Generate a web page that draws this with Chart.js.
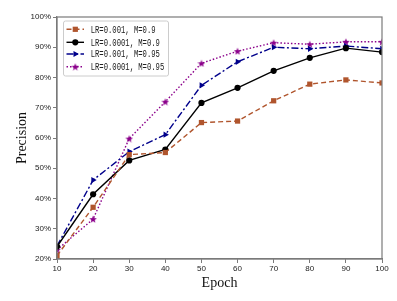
<!DOCTYPE html>
<html>
<head>
<meta charset="utf-8">
<script src="https://cdn.jsdelivr.net/npm/chart.js@4.4.1/dist/chart.umd.min.js"></script>
<style>
  body { margin: 0; background: #fff; }
  #wrap { width: 397px; height: 301px; }
</style>
</head>
<body>
<div id="wrap"><canvas id="lineChart" width="397" height="301"></canvas></div>
<script>
// data
const epochs = [10, 20, 30, 40, 50, 60, 70, 80, 90, 100];
const lr001m09 = [21.1, 37.1, 54.5, 55.2, 65.1, 65.6, 72.3, 77.8, 79.2, 78.2];
const lr0001m09 = [24.1, 41.4, 52.6, 56.2, 71.6, 76.6, 82.2, 86.5, 89.7, 88.4];
const lr001m095 = [24.3, 46.1, 55.5, 61.1, 77.4, 85.2, 90.0, 89.5, 90.4, 89.5];
const lr0001m095 = [23.0, 33.2, 59.8, 72.0, 84.7, 88.7, 91.5, 91.0, 91.8, 91.8];
const seriesNames = ['LR=0.001, M=0.9', 'LR=0.0001, M=0.9', 'LR=0.001, M=0.95', 'LR=0.0001, M=0.95'];
const yTicks = [20, 30, 40, 50, 60, 70, 80, 90, 100];

const gray = '#7a7a7a';
const tickFont = { family: "'Liberation Sans Narrow', 'Liberation Sans', Arial, sans-serif", size: 8 };

// filled five point star used as marker
function makeStar(color, size) {
    const c = document.createElement('canvas');
    c.width = size; c.height = size;
    const g = c.getContext('2d');
    const cx = size / 2, cy = size / 2 + 0.4, ro = size / 2, ri = ro * 0.42;
    g.beginPath();
    for (let i = 0; i < 10; i++) {
        const r = i % 2 === 0 ? ro : ri;
        const a = -Math.PI / 2 + i * Math.PI / 5;
        g.lineTo(cx + r * Math.cos(a), cy + r * Math.sin(a));
    }
    g.closePath();
    g.fillStyle = color;
    g.fill();
    return c;
}
const star = makeStar('#8b008b', 8);

function pts(vals) {
    return epochs.map((e, i) => ({ x: e, y: vals[i] }));
}

const datasets = [
    { label: seriesNames[0], data: pts(lr001m09), borderColor: '#b0552d', backgroundColor: '#b0552d',
      borderDash: [5, 3], pointStyle: 'rect', pointRadius: 3.7, rotation: 0 },
    { label: seriesNames[1], data: pts(lr0001m09), borderColor: '#000000', backgroundColor: '#000000',
      borderDash: [], pointStyle: 'circle', pointRadius: 3.1, rotation: 0 },
    { label: seriesNames[2], data: pts(lr001m095), borderColor: '#00008b', backgroundColor: '#00008b',
      borderDash: [7, 2.5, 2, 2.5], pointStyle: 'triangle', pointRadius: 3.6, rotation: 90 },
    { label: seriesNames[3], data: pts(lr0001m095), borderColor: '#8b008b', backgroundColor: '#8b008b',
      borderDash: [1.5, 2], pointStyle: star, pointRadius: 4, rotation: 0 }
];
datasets.forEach(d => {
    d.borderWidth = 1.4;
    d.pointBorderWidth = 0;
    d.tension = 0;
    d.fill = false;
    d.clip = 0;
});

// frame around plot area + legend box
const framePlugin = {
    id: 'frame',
    afterDraw(chart) {
        const { ctx, chartArea: a } = chart;
        ctx.save();
        ctx.strokeStyle = gray;
        ctx.lineWidth = 1.2;
        ctx.strokeRect(a.left, a.top, a.right - a.left, a.bottom - a.top);

        // legend
        const lx = 63, ly = 20.5, lw = 105, lh = 55;
        ctx.fillStyle = 'rgba(255,255,255,0.9)';
        ctx.strokeStyle = '#cccccc';
        ctx.lineWidth = 1;
        ctx.beginPath();
        ctx.roundRect(lx + 0.5, ly + 0.5, lw, lh, 2);
        ctx.fill();
        ctx.stroke();
        const rows = [29.3, 42.3, 54, 66.7];
        chart.data.datasets.forEach((d, i) => {
            const y = rows[i];
            ctx.strokeStyle = d.borderColor;
            ctx.lineWidth = 1.4;
            ctx.setLineDash(d.borderDash);
            ctx.beginPath();
            ctx.moveTo(66.5, y);
            ctx.lineTo(84, y);
            ctx.stroke();
            ctx.setLineDash([]);
            ctx.fillStyle = d.backgroundColor;
            ctx.strokeStyle = d.borderColor;
            Chart.helpers.drawPoint(ctx, { pointStyle: d.pointStyle, radius: d.pointRadius, rotation: d.rotation, borderWidth: 0 }, 75.3, y);
            ctx.save();
            ctx.translate(90.7, y);
            ctx.scale(0.7, 1);
            ctx.fillStyle = '#222';
            ctx.font = "10.3px 'Liberation Mono', 'DejaVu Sans Mono', monospace";
            ctx.textBaseline = 'middle';
            ctx.fillText(d.label, 0, 0.5);
            ctx.restore();
        });
        ctx.restore();
    }
};

new Chart(document.getElementById('lineChart'), {
    type: 'line',
    data: { datasets: datasets },
    options: {
        responsive: false,
        animation: false,
        layout: { padding: { top: 17, right: 15, left: 0, bottom: 0 } },
        plugins: { legend: { display: false }, tooltip: { enabled: false } },
        scales: {
            x: {
                type: 'linear',
                min: 10, max: 100,
                afterFit(scale) { scale.height = 42; },
                ticks: { stepSize: 10, color: '#222', font: tickFont, padding: 1, maxRotation: 0 },
                grid: { drawOnChartArea: false, drawTicks: true, tickLength: 4, color: gray },
                border: { color: gray, width: 1.2 },
                title: { display: true, text: 'Epoch', color: '#111',
                         font: { family: "'Liberation Serif', 'Times New Roman', serif", size: 14 },
                         padding: { top: 0, bottom: 9.5 } }
            },
            y: {
                min: 20, max: 100,
                afterFit(scale) { scale.width = 57; },
                afterBuildTicks(scale) { scale.ticks = yTicks.map(v => ({ value: v })); },
                ticks: { color: '#222', font: tickFont, padding: 2, callback: v => v + '%' },
                grid: { drawOnChartArea: false, drawTicks: true, tickLength: 4, color: gray },
                border: { color: gray, width: 1.2 },
                title: { display: true, text: 'Precision', color: '#111',
                         font: { family: "'Liberation Serif', 'Times New Roman', serif", size: 14 },
                         padding: { top: 13.5, bottom: 0 } }
            }
        }
    },
    plugins: [framePlugin]
});
</script>
</body>
</html>
